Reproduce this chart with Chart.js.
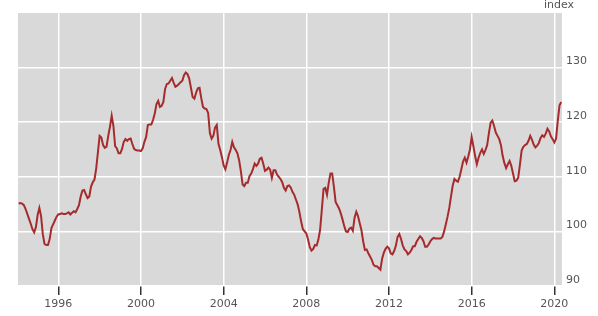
<!DOCTYPE html>
<html>
<head>
<meta charset="utf-8">
<script src="https://cdn.jsdelivr.net/npm/chart.js@4/dist/chart.umd.min.js"></script>
<style>
  html, body { margin: 0; padding: 0; background: #ffffff; }
  #wrap { width: 598px; height: 316px; position: relative; }
</style>
</head>
<body>
<div id="wrap"><canvas id="c"></canvas></div>
<script>
// Monthly index values, first point Feb 1994
const startYear = 1994 + 1 / 12;
const indexValues = [
  105.1, 105.2, 105.1, 104.8, 104.1, 103.2, 102.3, 101.4, 100.4, 99.8, 100.8, 103.0,
  104.3, 102.8, 99.5, 97.7, 97.5, 97.5, 98.6, 100.6, 101.3, 102.0, 102.7, 103.1,
  103.2, 103.3, 103.2, 103.2, 103.3, 103.5, 103.1, 103.4, 103.7, 103.5, 104.1, 104.8,
  106.4, 107.5, 107.6, 106.8, 106.1, 106.4, 108.2, 109.0, 109.5, 111.5, 114.5, 117.5,
  117.2, 115.8, 115.3, 115.5, 117.5, 119.2, 121.2, 119.3, 115.6, 115.2, 114.3, 114.3,
  115.1, 116.4, 116.9, 116.6, 116.9, 117.0, 116.0, 115.1, 114.9, 114.8, 114.8, 114.7,
  115.2, 116.4, 117.3, 119.5, 119.6, 119.6, 120.4, 121.6, 123.3, 123.9, 122.8, 123.0,
  123.7, 126.1, 127.0, 127.1, 127.6, 128.1, 127.2, 126.5, 126.7, 127.0, 127.3, 127.6,
  128.6, 129.1, 128.8, 128.0, 126.3, 124.6, 124.3, 125.4, 126.2, 126.3, 124.4, 122.8,
  122.5, 122.4, 121.7, 118.0, 117.0, 117.5, 119.0, 119.5, 116.0, 114.9, 113.6, 112.1,
  111.4, 112.6, 114.0, 114.9, 116.4, 115.4, 114.9, 114.3, 113.0, 111.0, 108.6, 108.3,
  108.9, 108.9, 110.1, 110.6, 111.4, 112.4, 112.0, 112.4, 113.3, 113.5, 112.4, 111.1,
  111.3, 111.7, 111.3, 109.8, 111.2, 111.2, 110.4, 110.0, 109.6, 109.0, 108.0, 107.5,
  108.3, 108.4, 108.0, 107.2, 106.7, 105.8, 104.9, 103.5, 101.8, 100.4, 100.0, 99.6,
  98.5, 97.1, 96.5, 96.8, 97.5, 97.4, 98.5, 100.3, 104.0, 107.8, 108.0, 106.7,
  108.9, 110.6, 110.6, 108.2, 105.4, 104.8, 104.2, 103.3, 102.2, 101.0, 100.0, 99.9,
  100.5, 100.7, 100.1, 102.5, 103.6, 102.8, 101.5, 100.2, 98.2, 96.6, 96.7, 96.0,
  95.4, 94.8, 93.9, 93.6, 93.6, 93.3, 93.0, 95.0, 96.1, 96.8, 97.2, 96.9,
  96.0, 95.8, 96.4, 97.4, 99.0, 99.5, 98.6, 97.4, 96.7, 96.4, 95.8, 96.1,
  96.6, 97.3, 97.3, 98.1, 98.6, 99.1, 98.8, 98.2, 97.2, 97.2, 97.6, 98.2,
  98.6, 98.8, 98.7, 98.7, 98.7, 98.7, 99.0, 100.0, 101.3, 102.7, 104.3, 106.4,
  108.4, 109.6, 109.3, 109.1, 110.0, 111.4, 112.8, 113.5, 112.6, 113.7, 115.0, 117.3,
  115.6, 113.8, 112.3, 113.5, 114.4, 115.0, 114.2, 114.9, 115.8, 118.0, 119.9, 120.3,
  119.3, 118.1, 117.5, 116.9, 115.8, 113.8, 112.5, 111.6, 112.3, 112.9, 112.0, 110.6,
  109.2, 109.3, 109.8, 112.2, 114.8, 115.5, 115.8, 116.0, 116.6, 117.5, 116.8, 115.9,
  115.4, 115.7, 116.2, 117.1, 117.6, 117.3, 117.9, 118.8, 118.3, 117.4, 116.9, 116.3,
  117.0, 120.3, 123.1, 123.7
];
const xTickYears = [1996, 2000, 2004, 2008, 2012, 2016, 2020];
const yTickValues = [90, 100, 110, 120, 130];
const unitLabel = 'index';

const points = indexValues.map((v, i) => ({ x: startYear + i / 12, y: v }));

const plotBg = {
  id: 'plotBg',
  beforeDraw(chart) {
    const { ctx, chartArea: a } = chart;
    ctx.save();
    ctx.fillStyle = '#d9d9d9';
    ctx.fillRect(a.left, a.top, a.right - a.left, a.bottom - a.top);
    ctx.restore();
  }
};
const unitText = {
  id: 'unitText',
  afterDraw(chart) {
    const { ctx } = chart;
    ctx.save();
    ctx.font = '11px "DejaVu Sans", Verdana, sans-serif';
    ctx.fillStyle = '#555555';
    ctx.textAlign = 'left';
    ctx.textBaseline = 'middle';
    ctx.fillText(unitLabel, 544, 5);
    ctx.restore();
  }
};

new Chart(document.getElementById('c'), {
  type: 'line',
  data: {
    datasets: [{
      data: points,
      borderColor: '#a52b2d',
      borderWidth: 2,
      pointRadius: 0,
      tension: 0,
      fill: false
    }]
  },
  options: {
    responsive: true,
    maintainAspectRatio: false,
    animation: false,
    events: [],
    layout: { padding: { left: 18, top: 13, right: 0, bottom: 0 } },
    plugins: { legend: { display: false }, tooltip: { enabled: false } },
    scales: {
      x: {
        type: 'linear',
        min: 1994.05,
        max: 2020.37,
        afterBuildTicks(scale) { scale.ticks = xTickYears.map(v => ({ value: v })); },
        afterFit(scale) { scale.height = 30; },
        grid: {
          color: '#ffffff',
          lineWidth: 1.5,
          tickColor: '#333333',
          tickLength: 9,
          tickWidth: 1.5
        },
        border: { display: false },
        ticks: {
          autoSkip: false,
          maxRotation: 0,
          padding: 3,
          color: '#555555',
          font: { family: '"DejaVu Sans", Verdana, sans-serif', size: 11 },
          callback: v => String(v)
        }
      },
      y: {
        position: 'right',
        min: 90,
        max: 140,
        afterBuildTicks(scale) { scale.ticks = yTickValues.map(v => ({ value: v })); },
        afterFit(scale) { scale.width = 36; },
        grid: { color: '#ffffff', lineWidth: 1.5, drawTicks: false },
        border: { display: false },
        ticks: {
          padding: 4,
          labelOffset: -6,
          color: '#555555',
          font: { family: '"DejaVu Sans", Verdana, sans-serif', size: 11 },
          callback: v => String(v)
        }
      }
    }
  },
  plugins: [plotBg, unitText]
});
</script>
</body>
</html>
